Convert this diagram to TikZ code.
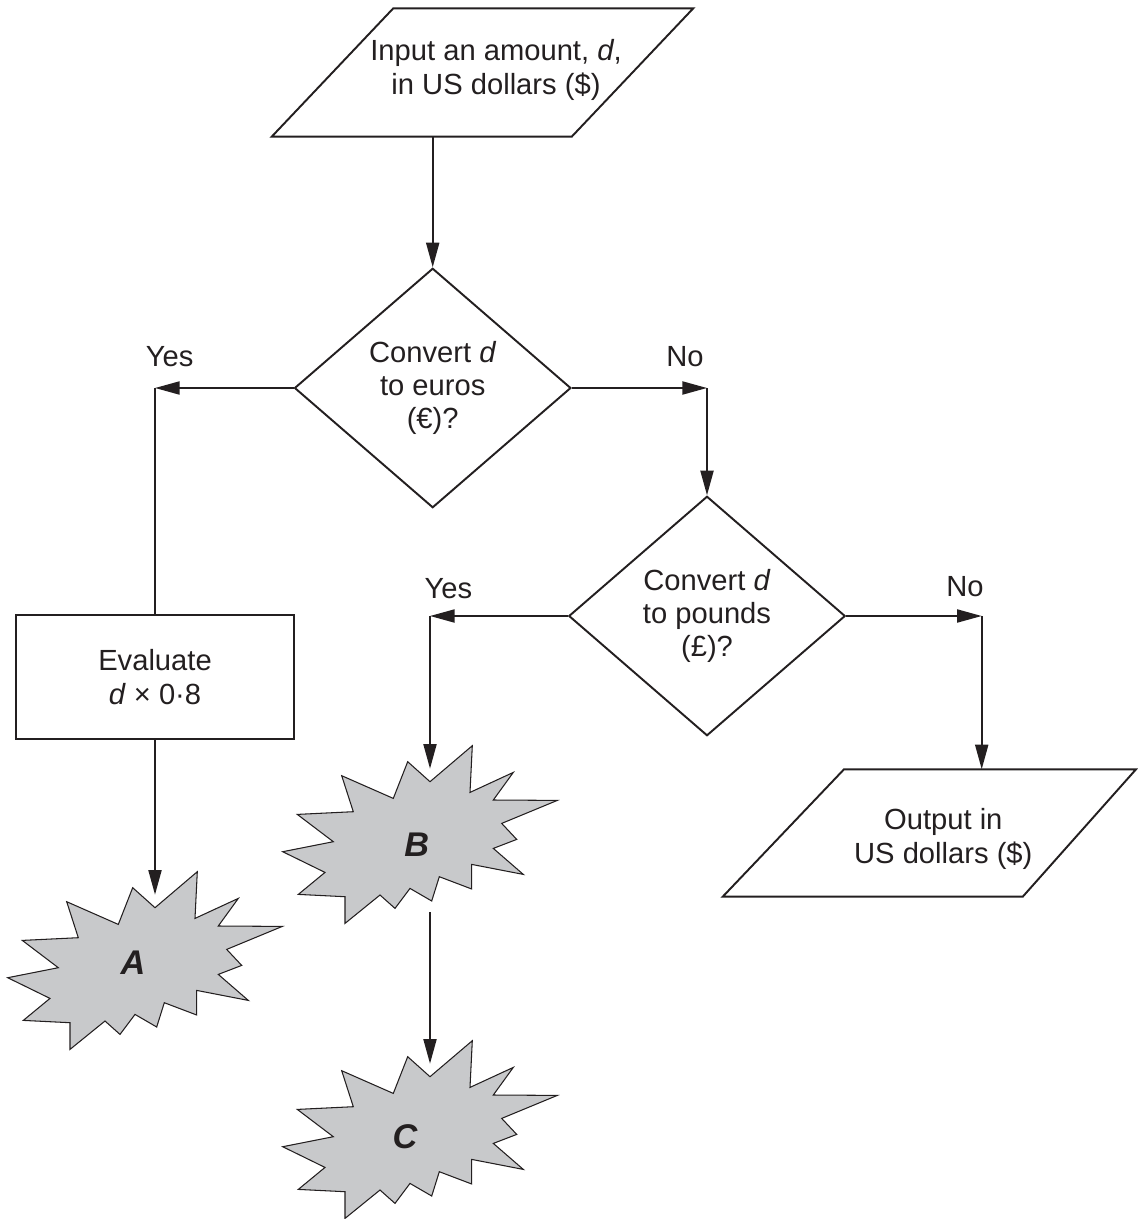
\documentclass[tikz,border=0pt]{standalone}
\usepackage{fontspec}
\setmainfont{Liberation Sans}
\usepackage{tikz}
\usetikzlibrary{arrows.meta, shapes.geometric}

\definecolor{ink}{RGB}{35,31,32}
\definecolor{burstgrey}{RGB}{200,201,203}

\begin{document}
\begin{tikzpicture}[
    x=0.02cm, y=-0.02cm,
    font=\fontsize{16.6}{18.9}\selectfont,
    text=ink,
    decision/.style={
        diamond,
        draw=ink,
        line width=1.1pt,
        minimum width=5.53cm,
        minimum height=4.79cm,
        inner sep=0pt,
        align=center
    },
    procbox/.style={
        rectangle,
        draw=ink,
        line width=1.1pt,
        minimum width=5.56cm,
        minimum height=2.48cm,
        align=center
    },
    iobox/.style={draw=ink, line width=1.1pt, line join=miter},
    txt/.style={align=center, inner sep=0pt},
    flow/.style={-{Triangle[length=14pt,width=7.4pt]}, draw=ink, line width=1.1pt},
    link/.style={draw=ink, line width=1.1pt},
    letter/.style={font=\fontsize{19.5}{22}\selectfont\bfseries\itshape},
    burst/.pic={
        \draw[draw=ink, fill=burstgrey, line width=0.6pt, line join=miter]
            (0,0) -- (42.3,-36) -- (40,10.7) -- (83.3,-9.3) -- (63.3,18.3)
            -- (127.3,18.7) -- (71.7,41.7) -- (86.7,57.7) -- (63.3,66.7)
            -- (93.3,92.7) -- (41.7,82.7) -- (41.7,107.3) -- (9.3,95)
            -- (1.7,119.3) -- (-20,106.7) -- (-35,126.7) -- (-50,113.3)
            -- (-85,141.7) -- (-85,115) -- (-131.7,112.7) -- (-105,90.7)
            -- (-147.3,70) -- (-96.7,60) -- (-132.7,32.7) -- (-76.7,30)
            -- (-88.3,-6) -- (-36.7,16.7) -- (-22.3,-20) -- cycle;
        \coordinate (-in) at (0,-13);
    }
]
\useasboundingbox (0,0) rectangle (1137,1219);

% input and the two questions
\draw[iobox] (271.7,136.7) -- (393.3,8.3) -- (693.3,8.3) -- (571.7,136.7) -- cycle;
\node[txt] (input) at (496,70) {Input an amount, \textit{d},\\in US dollars (\$)};
\coordinate (inbot) at (432.7,136.7);

\node[decision] (euros) at (432.7,388) {Convert \textit{d}\\to euros\\(€)?};
\node[decision] (pounds) at (707,616) {Convert \textit{d}\\to pounds\\(£)?};

% euro branch
\node[procbox] (eval) at (155,677) {Evaluate\\\textit{d} × 0·8};
\pic (A) at (155,907.7) {burst};
\node[letter] (Alabel) at (133,963) {A};

% pound branch
\pic (B) at (430,781.7) {burst};
\node[letter] (Blabel) at (416.7,845) {B};
\coordinate (Bout) at (430,912);
\pic (C) at (430,1076.7) {burst};
\node[letter] (Clabel) at (405,1136.7) {C};

% output in dollars
\draw[iobox] (722.7,896.7) -- (844,769.3) -- (1136,769.3) -- (1022.7,896.7) -- cycle;
\node[txt] (output) at (943.3,839) {Output in\\US dollars (\$)};
\coordinate (outtop) at (981.7,769.3);

% answers
\node (yes1) at (169.6,357) {Yes};
\node (no1) at (685,356.7) {No};
\node (yes2) at (448.3,588.3) {Yes};
\node (no2) at (965,586.7) {No};

\coordinate (yescorner) at (euros.west -| eval.north);
\coordinate (nocorner) at (euros.east -| pounds.north);
\coordinate (yes2corner) at (pounds.west -| B-in);
\coordinate (no2corner) at (pounds.east -| outtop);

\draw[flow] (inbot) -- (euros.north);
\draw[flow] (euros.west) -- (yescorner);
\draw[link] (yescorner) -- (eval.north);
\draw[flow] (eval.south) -- (A-in);
\draw[flow] (euros.east) -- (nocorner);
\draw[flow] (nocorner) -- (pounds.north);
\draw[flow] (pounds.west) -- (yes2corner);
\draw[flow] (yes2corner) -- (B-in);
\draw[flow] (Bout) -- (C-in);
\draw[flow] (pounds.east) -- (no2corner);
\draw[flow] (no2corner) -- (outtop);

\end{tikzpicture}
\end{document}
